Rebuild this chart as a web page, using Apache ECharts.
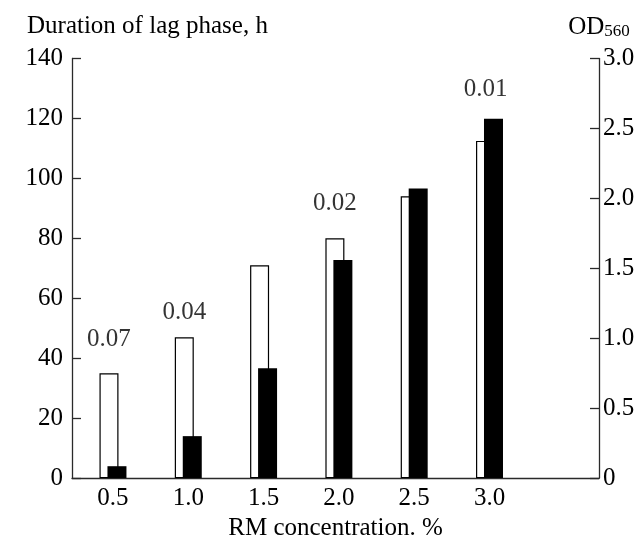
<!DOCTYPE html>
<html>
<head>
<meta charset="utf-8">
<script src="https://cdn.jsdelivr.net/npm/echarts@6/dist/echarts.min.js"></script>
<style>
html,body{margin:0;padding:0;background:#fff;}
#chart{width:641px;height:546px;}
</style>
</head>
<body>
<div id="chart"></div>
<script>
// Data
var concentrations = [0.5, 1.0, 1.5, 2.0, 2.5, 3.0];
var lagPhaseHours = [35, 47, 71, 80, 94, 112.5];
var od560 = [0.085, 0.30, 0.785, 1.56, 2.07, 2.57];
var annotConc = [0.5, 1.0, 2.0, 3.0];
var annotText = ['0.07', '0.04', '0.02', '0.01'];
var annotHours = [46.4, 55.4, 91.5, 129.8];
var leftTicks = [0, 20, 40, 60, 80, 100, 120, 140];
var rightTicks = [0, 0.5, 1.0, 1.5, 2.0, 2.5, 3.0];

var FONT = "'Liberation Serif', 'Times New Roman', serif";
var FS = 25;
var AX = '#2a2a2a';

var chart = echarts.init(document.getElementById('chart'), null, {renderer: 'canvas'});

var option = {
  animation: false,
  backgroundColor: '#fff',
  textStyle: {fontFamily: FONT, color: '#000'},
  grid: {left: 72, right: 42, top: 58.5, bottom: 53, containLabel: false},
  xAxis: {
    type: 'value',
    min: 0.228,
    max: 3.727,
    name: 'RM concentration. %',
    nameLocation: 'middle',
    nameGap: 32,
    nameTextStyle: {fontFamily: FONT, fontSize: FS, color: '#000', verticalAlign: 'top'},
    axisLine: {show: true, onZero: false, lineStyle: {color: AX, width: 1.3}},
    axisTick: {show: false},
    splitLine: {show: false},
    axisLabel: {
      customValues: concentrations,
      formatter: function (v) { return v.toFixed(1); },
      fontFamily: FONT, fontSize: FS, color: '#000', margin: 8
    }
  },
  yAxis: [
    {
      type: 'value',
      position: 'left',
      min: leftTicks[0],
      max: leftTicks[leftTicks.length - 1],
      interval: 20,
      name: 'Duration of lag phase, h',
      nameLocation: 'end',
      nameGap: 20,
      nameTextStyle: {fontFamily: FONT, fontSize: FS, color: '#000', align: 'left', padding: [0, 0, 0, -45]},
      axisLine: {show: true, lineStyle: {color: AX, width: 1.3}},
      axisTick: {show: true, inside: true, length: 9, lineStyle: {color: AX, width: 1.3}},
      splitLine: {show: false},
      axisLabel: {fontFamily: FONT, fontSize: FS, color: '#000', margin: 9}
    },
    {
      type: 'value',
      position: 'right',
      min: rightTicks[0],
      max: rightTicks[rightTicks.length - 1],
      interval: 0.5,
      name: '{a|OD}{b|560}',
      nameLocation: 'end',
      nameGap: 18,
      nameTextStyle: {
        rich: {
          a: {fontFamily: FONT, fontSize: FS, color: '#000'},
          b: {fontFamily: FONT, fontSize: 17, color: '#000', padding: [10, 0, 0, 0]}
        }
      },
      axisLine: {show: true, lineStyle: {color: AX, width: 1.3}},
      axisTick: {show: true, inside: true, length: 9, lineStyle: {color: AX, width: 1.3}},
      splitLine: {show: false},
      axisLabel: {
        fontFamily: FONT, fontSize: FS, color: '#000', margin: 4,
        formatter: function (v) { return v === 0 ? '0' : v.toFixed(1); }
      }
    }
  ],
  series: [
    {
      name: 'Lag phase',
      type: 'bar',
      xAxisIndex: 0,
      yAxisIndex: 0,
      barWidth: 19,
      barGap: '-58%',
      data: concentrations.map(function (c, i) { return [c, lagPhaseHours[i]]; }),
      itemStyle: {color: '#fff', borderColor: '#000', borderWidth: 1.2}
    },
    {
      name: 'OD560',
      type: 'bar',
      xAxisIndex: 0,
      yAxisIndex: 1,
      barWidth: 19,
      barGap: '-58%',
      data: concentrations.map(function (c, i) { return [c, od560[i]]; }),
      itemStyle: {color: '#000', borderColor: '#000', borderWidth: 0}
    },
    {
      name: 'annotations',
      type: 'scatter',
      xAxisIndex: 0,
      yAxisIndex: 0,
      symbolSize: 0,
      silent: true,
      data: annotConc.map(function (c, i) { return {value: [c, annotHours[i]], name: annotText[i]}; }),
      label: {
        show: true,
        position: 'inside',
        offset: [-4, 0],
        formatter: function (p) { return p.name; },
        fontFamily: FONT, fontSize: FS, color: '#000'
      }
    }
  ]
};

chart.setOption(option);
</script>
</body>
</html>
